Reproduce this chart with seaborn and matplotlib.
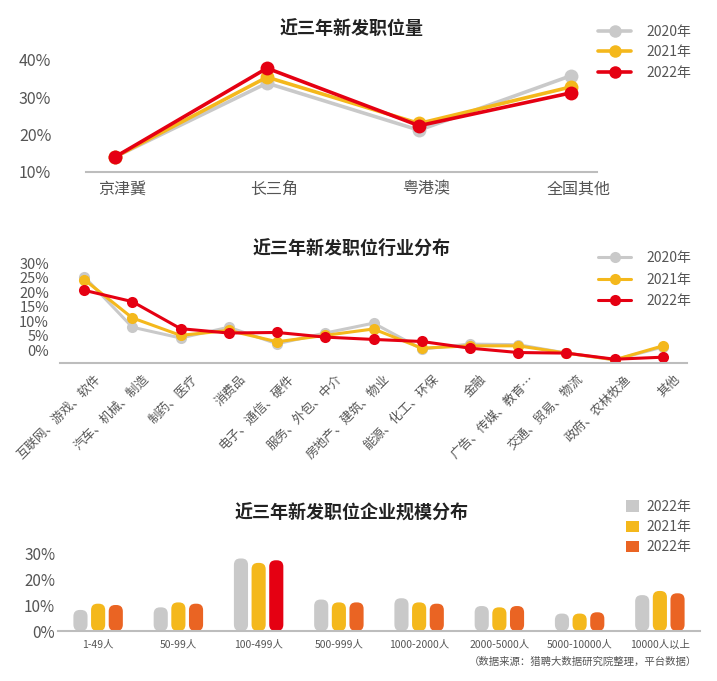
import numpy as np
import pandas as pd
import matplotlib
matplotlib.use("Agg")
import matplotlib.pyplot as plt
import matplotlib.transforms as mtransforms
import seaborn as sns
from matplotlib.lines import Line2D
from matplotlib.patches import FancyBboxPatch, Patch

# ---------------- data ----------------
YEARS = ["2020年", "2021年", "2022年"]

REGIONS = ["京津冀", "长三角", "粤港澳", "全国其他"]
REG_2020 = [14.0, 33.8, 21.2, 35.8]
REG_2021 = [14.0, 35.4, 23.0, 32.8]
REG_2022 = [14.0, 37.8, 22.4, 31.2]
REG_TICKS = [10, 20, 30, 40]

INDUSTRIES = ["互联网、游戏、软件", "汽车、机械、制造", "制药、医疗", "消费品",
              "电子、通信、硬件", "服务、外包、中介", "房地产、建筑、物业",
              "能源、化工、环保", "金融", "广告、传媒、教育…", "交通、贸易、物流",
              "政府、农林牧渔", "其他"]
IND_2020 = [25.4, 8.0, 4.3, 8.0, 2.3, 6.0, 9.4, 0.5, 2.2, 2.0, -0.9, -3.2, 1.2]
IND_2021 = [24.4, 11.2, 5.2, 6.9, 3.0, 5.2, 7.4, 0.8, 1.6, 1.6, -0.9, -3.2, 1.6]
IND_2022 = [20.7, 16.8, 7.5, 6.0, 6.2, 4.6, 3.8, 3.1, 0.8, -0.7, -0.9, -3.0, -2.3]
IND_TICKS = [0, 5, 10, 15, 20, 25, 30]

SIZES = ["1-49人", "50-99人", "100-499人", "500-999人", "1000-2000人",
         "2000-5000人", "5000-10000人", "10000人以上"]
SIZE_2020 = [8.1, 9.1, 27.9, 12.1, 12.6, 9.6, 6.7, 13.8]
SIZE_2021 = [10.5, 11.0, 26.2, 11.0, 11.0, 9.1, 6.7, 15.4]
SIZE_2022 = [10.0, 10.5, 27.2, 11.0, 10.5, 9.6, 7.2, 14.5]
SIZE_TICKS = [0, 10, 20, 30]
SIZE_LEGEND = ["2022年", "2021年", "2022年"]

TITLE1 = "近三年新发职位量"
TITLE2 = "近三年新发职位行业分布"
TITLE3 = "近三年新发职位企业规模分布"
SOURCE = "（数据来源：猎聘大数据研究院整理，平台数据）"

# ---------------- style ----------------
GRAY = "#c9c9c9"
YELLOW = "#f4b81c"
RED = "#e50012"
ORANGE = "#ea6423"
AXIS = "#bdbdbd"
TXT = "#555555"
LINE_COLORS = [GRAY, YELLOW, RED]
BAR_COLORS = [GRAY, YELLOW, ORANGE]

sns.set_theme(style="white")
plt.rcParams["font.family"] = ["Noto Sans CJK SC", "DejaVu Sans"]
plt.rcParams["axes.unicode_minus"] = False

fig = plt.figure(figsize=(7.17, 6.81), dpi=100)


def long_df(cats, series):
    rows = []
    for y, vals in zip(YEARS, series):
        for i, (c, v) in enumerate(zip(cats, vals)):
            rows.append({"idx": i, "cat": c, "year": y, "val": v})
    return pd.DataFrame(rows)


def style_axis(ax):
    for s in ["top", "right", "left"]:
        ax.spines[s].set_visible(False)
    ax.spines["bottom"].set_color(AXIS)
    ax.spines["bottom"].set_linewidth(1.5)
    ax.grid(False)
    ax.set_xlabel("")
    ax.set_ylabel("")
    ax.tick_params(axis="both", length=0, colors=TXT)


def shift_labels(ax, dx, dy):
    off = mtransforms.ScaledTranslation(dx / 100, dy / 100, fig.dpi_scale_trans)
    for lab in ax.get_xticklabels():
        lab.set_transform(lab.get_transform() + off)


def line_legend(y_top, spacing, lw, ms):
    handles = [Line2D([0], [0], color=c, lw=lw, marker="o", markersize=ms,
                      markeredgewidth=0) for c in LINE_COLORS]
    leg = fig.legend(handles, YEARS, loc="upper left",
                     bbox_to_anchor=(598 / 717, y_top), frameon=False,
                     handlelength=2.4, handletextpad=1.1, labelspacing=spacing,
                     fontsize=10, borderaxespad=0, borderpad=0)
    for t in leg.get_texts():
        t.set_color(TXT)


# ---------------- chart 1 ----------------
ax1 = fig.add_axes([86 / 717, 1 - 172 / 681, 511 / 717, (172 - 52.5) / 681])
df1 = long_df(REGIONS, [REG_2020, REG_2021, REG_2022])
sns.lineplot(data=df1, x="idx", y="val", hue="year", palette=LINE_COLORS,
             hue_order=YEARS, marker="o", markersize=10, markeredgewidth=0,
             linewidth=2.6, legend=False, ax=ax1)
ax1.set_xlim(-0.19, 3.17)
ax1.set_ylim(10, 42)
ax1.set_xticks(range(len(REGIONS)), labels=REGIONS, fontsize=11.5)
ax1.set_yticks(REG_TICKS, labels=[f"{t}%" for t in REG_TICKS], fontsize=11.5)
style_axis(ax1)
ax1.tick_params(axis="x", pad=6)
ax1.tick_params(axis="y", pad=25)
shift_labels(ax1, 7, 0)
fig.text(352 / 717, 1 - 28 / 681, TITLE1, ha="center", va="center",
         fontsize=13, fontweight="bold", color="#222222")
line_legend(1 - 25 / 681, 0.45, 2.6, 9)

# ---------------- chart 2 ----------------
ax2 = fig.add_axes([60 / 717, 1 - 363.3 / 681, 627 / 717, 103 / 681])
df2 = long_df(INDUSTRIES, [IND_2020, IND_2021, IND_2022])
sns.lineplot(data=df2, x="idx", y="val", hue="year", palette=LINE_COLORS,
             hue_order=YEARS, marker="o", markersize=8, markeredgewidth=0,
             linewidth=2.2, legend=False, ax=ax2)
ax2.set_xlim(-0.5, len(INDUSTRIES) - 0.5)
ax2.set_ylim(-4.4, 31)
ax2.set_xticks(range(len(INDUSTRIES)))
ax2.set_xticklabels(INDUSTRIES, rotation=45, ha="right", va="top",
                    rotation_mode="anchor", fontsize=9)
ax2.set_yticks(IND_TICKS, labels=[f"{t}%" for t in IND_TICKS], fontsize=10.5)
style_axis(ax2)
ax2.tick_params(axis="x", pad=4)
ax2.tick_params(axis="y", pad=8)
shift_labels(ax2, 10, -4)
fig.text(352 / 717, 1 - 248 / 681, TITLE2, ha="center", va="center",
         fontsize=13, fontweight="bold", color="#222222")
line_legend(1 - 251 / 681, 0.55, 2.2, 8)

# ---------------- chart 3 ----------------
ax3 = fig.add_axes([58 / 717, 1 - 631 / 681, 642 / 717, 83.2 / 681])
df3 = long_df(SIZES, [SIZE_2020, SIZE_2021, SIZE_2022])
sns.barplot(data=df3, x="cat", y="val", hue="year", hue_order=YEARS,
            order=SIZES, palette=BAR_COLORS, width=0.66, gap=0.2,
            saturation=1, legend=False, ax=ax3)
ax3.set_xlim(-0.5, len(SIZES) - 0.5)
ax3.set_ylim(0, 32)
ax3.set_yticks(SIZE_TICKS, labels=[f"{t}%" for t in SIZE_TICKS], fontsize=11)
ax3.set_xticks(range(len(SIZES)), labels=SIZES, fontsize=7.5)
style_axis(ax3)
ax3.tick_params(axis="x", pad=6)
ax3.tick_params(axis="y", pad=2)

# highlight the 2022 bar of the 100-499人 group in red
ax3.containers[2].patches[SIZES.index("100-499人")].set_facecolor(RED)

# round the bars
fig.canvas.draw()
px_x = ax3.transData.transform((1, 0))[0] - ax3.transData.transform((0, 0))[0]
px_y = ax3.transData.transform((0, 1))[1] - ax3.transData.transform((0, 0))[1]
aspect = px_x / px_y
for p in list(ax3.patches):
    x, y0 = p.get_xy()
    w, h = p.get_width(), p.get_height()
    fc = p.get_facecolor()
    p.set_visible(False)
    r = w * 0.45
    fb = FancyBboxPatch((x, y0), w, h,
                        boxstyle=f"round,pad=0,rounding_size={r}",
                        mutation_aspect=aspect, facecolor=fc,
                        edgecolor="none", zorder=2)
    ax3.add_patch(fb)

fig.text(352 / 717, 1 - 513 / 681, TITLE3, ha="center", va="center",
         fontsize=13, fontweight="bold", color="#222222")
bh = [Patch(facecolor=c, edgecolor="none") for c in BAR_COLORS]
leg3 = fig.legend(bh, SIZE_LEGEND, loc="upper left",
                  bbox_to_anchor=(626 / 717, 1 - 500 / 681), frameon=False,
                  handlelength=0.9, handleheight=0.9, handletextpad=0.6,
                  labelspacing=0.45, fontsize=10, borderaxespad=0, borderpad=0)
for t in leg3.get_texts():
    t.set_color(TXT)

fig.text(697 / 717, 1 - 662 / 681, SOURCE, ha="right", va="center",
         fontsize=7.5, color=TXT)

fig.savefig("out.png", dpi=100, facecolor="white")
